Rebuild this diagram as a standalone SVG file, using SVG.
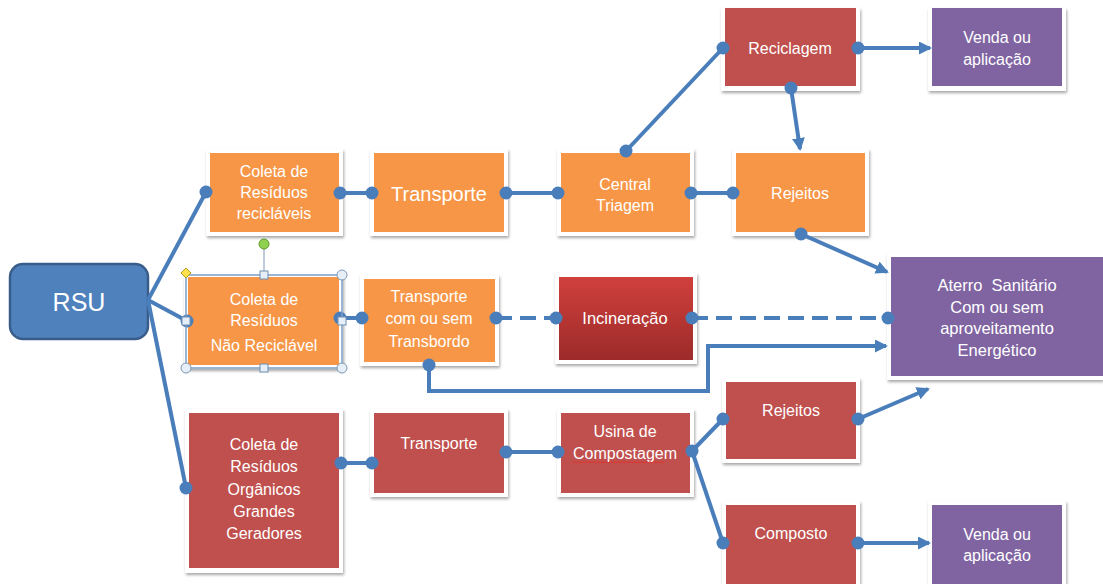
<svg xmlns="http://www.w3.org/2000/svg" width="1103" height="584" viewBox="0 0 1103 584">
<defs>
<filter id="sh" x="-10%" y="-10%" width="125%" height="130%">
<feDropShadow dx="1" dy="2" stdDeviation="1.8" flood-color="#000" flood-opacity="0.35"/>
</filter>
<linearGradient id="incg" x1="0" y1="0" x2="0" y2="1">
<stop offset="0" stop-color="#d0403c"/>
<stop offset="1" stop-color="#9c2b2a"/>
</linearGradient>
<marker id="ah" viewBox="0 0 13 13" refX="11" refY="6.5" markerWidth="13" markerHeight="13" markerUnits="userSpaceOnUse" orient="auto">
<path d="M0,0 L13,6.5 L0,13 z" fill="#4a7ebb"/>
</marker>
<style>
.fr{fill:#fff;filter:url(#sh)}
.or{fill:#f79646}
.rd{fill:#c0504d}
.pu{fill:#8064a2}
text{font-family:"Liberation Sans",Arial,sans-serif;font-size:16px;fill:#fff;text-anchor:middle}
.ln{stroke:#4a7ebb;stroke-width:4;fill:none}
.ds{stroke:#4a7ebb;stroke-width:4;fill:none;stroke-dasharray:16 8}
.dt{fill:#4a7ebb}
.hc{fill:#e6eef7;stroke:#7f97b3;stroke-width:1}
.hs{fill:#e6eef7;stroke:#6f8fb3;stroke-width:1}
</style>
</defs>

<g id="rsu">
<rect x="10" y="264" width="138" height="75" rx="13" fill="#4f81bd" stroke="#385d8a" stroke-width="2.5"/>
<text x="79" y="311" style="font-size:25px">RSU</text>
</g>

<g id="coleta-reciclaveis">
<rect class="fr" x="206" y="149" width="137" height="87"/>
<rect class="or" x="210" y="153" width="129" height="79"/>
<text x="274" y="177">Coleta de</text>
<text x="274" y="198">Resíduos</text>
<text x="274" y="219">recicláveis</text>
</g>

<g id="transporte-1">
<rect class="fr" x="370" y="149" width="138" height="87"/>
<rect class="or" x="374" y="153" width="130" height="79"/>
<text x="439" y="201" style="font-size:20px">Transporte</text>
</g>

<g id="central-triagem">
<rect class="fr" x="557" y="149" width="137" height="87"/>
<rect class="or" x="561" y="153" width="129" height="79"/>
<text x="625" y="190">Central</text>
<text x="625" y="211">Triagem</text>
</g>

<g id="rejeitos-1">
<rect class="fr" x="732" y="149" width="137" height="87"/>
<rect class="or" x="736" y="153" width="129" height="79"/>
<text x="800" y="199">Rejeitos</text>
</g>

<g id="reciclagem">
<rect class="fr" x="721" y="8" width="139" height="83"/>
<rect class="rd" x="725" y="8" width="131" height="78"/>
<text x="790" y="54">Reciclagem</text>
</g>

<g id="venda-1">
<rect class="fr" x="928" y="8" width="138" height="83"/>
<rect class="pu" x="932" y="8" width="130" height="78"/>
<text x="997" y="43">Venda ou</text>
<text x="997" y="65">aplicação</text>
</g>

<g id="coleta-nao-reciclavel">
<rect class="fr" x="184" y="273" width="159" height="96"/>
<rect class="or" x="188" y="277" width="151" height="88"/>
<text x="264" y="305">Coleta de</text>
<text x="264" y="326">Resíduos</text>
<text x="264" y="351">Não Reciclável</text>
</g>

<g id="transporte-transbordo">
<rect class="fr" x="360" y="275" width="139" height="91"/>
<rect class="or" x="364" y="279" width="131" height="83"/>
<text x="429" y="302">Transporte</text>
<text x="429" y="324">com ou sem</text>
<text x="429" y="347">Transbordo</text>
</g>

<g id="incineracao">
<rect class="fr" x="555" y="273" width="142" height="91"/>
<rect x="559" y="277" width="134" height="83" fill="url(#incg)"/>
<text x="625" y="324" style="font-size:16.5px">Incineração</text>
</g>

<g id="aterro">
<rect class="fr" x="887" y="253" width="216" height="127"/>
<rect class="pu" x="891" y="257" width="212" height="119"/>
<text x="997" y="291" style="font-size:16.5px" xml:space="preserve">Aterro  Sanitário</text>
<text x="997" y="313" style="font-size:16.5px">Com ou sem</text>
<text x="997" y="334" style="font-size:16.5px">aproveitamento</text>
<text x="997" y="356" style="font-size:16.5px">Energético</text>
</g>

<g id="coleta-organicos">
<rect class="fr" x="185" y="409" width="158" height="164"/>
<rect class="rd" x="189" y="413" width="150" height="155"/>
<text x="264" y="450">Coleta de</text>
<text x="264" y="472">Resíduos</text>
<text x="264" y="495">Orgânicos</text>
<text x="264" y="517">Grandes</text>
<text x="264" y="539">Geradores</text>
</g>

<g id="transporte-2">
<rect class="fr" x="370" y="409" width="138" height="88"/>
<rect class="rd" x="374" y="413" width="130" height="80"/>
<text x="439" y="449">Transporte</text>
</g>

<g id="usina">
<rect class="fr" x="557" y="409" width="137" height="88"/>
<rect class="rd" x="561" y="413" width="129" height="80"/>
<text x="625" y="437">Usina de</text>
<text x="625" y="459">Compostagem</text>
<path d="M572,463 l2,-1.5 l2,1.5 l2,-1.5 l2,1.5 l2,-1.5 l2,1.5 l2,-1.5 l2,1.5 l2,-1.5 l2,1.5 l2,-1.5 l2,1.5 l2,-1.5 l2,1.5 l2,-1.5 l2,1.5 l2,-1.5 l2,1.5 l2,-1.5 l2,1.5 l2,-1.5 l2,1.5 l2,-1.5 l2,1.5 l2,-1.5 l2,1.5 l2,-1.5 l2,1.5 l2,-1.5 l2,1.5 l2,-1.5 l2,1.5 l2,-1.5 l2,1.5 l2,-1.5 l2,1.5 l2,-1.5 l2,1.5 l2,-1.5 l2,1.5 l2,-1.5 l2,1.5 l2,-1.5 l2,1.5 l2,-1.5 l2,1.5" fill="none" stroke="#e0302a" stroke-width="0.9"/>
</g>

<g id="rejeitos-2">
<rect class="fr" x="722" y="378" width="138" height="85"/>
<rect class="rd" x="726" y="382" width="130" height="77"/>
<text x="791" y="416">Rejeitos</text>
</g>

<g id="composto">
<rect class="fr" x="722" y="501" width="138" height="87"/>
<rect class="rd" x="726" y="505" width="130" height="79"/>
<text x="791" y="539">Composto</text>
</g>

<g id="venda-2">
<rect class="fr" x="928" y="501" width="138" height="87"/>
<rect class="pu" x="932" y="505" width="130" height="79"/>
<text x="997" y="540">Venda ou</text>
<text x="997" y="561">aplicação</text>
</g>

<g id="connectors">
<line class="ln" x1="148" y1="300" x2="206" y2="192"/>
<line class="ln" x1="148" y1="300" x2="187" y2="321"/>
<line class="ln" x1="148" y1="300" x2="186" y2="488"/>
<line class="ln" x1="340" y1="193" x2="372" y2="193"/>
<line class="ln" x1="506" y1="193" x2="558" y2="193"/>
<line class="ln" x1="691" y1="193" x2="733" y2="193"/>
<line class="ln" x1="626" y1="151" x2="723" y2="48"/>
<line class="ln" x1="858" y1="48" x2="930" y2="48" marker-end="url(#ah)"/>
<line class="ln" x1="791" y1="88" x2="800" y2="149" marker-end="url(#ah)"/>
<line class="ln" x1="801" y1="234" x2="887" y2="272" marker-end="url(#ah)"/>
<line class="ln" x1="340" y1="318" x2="362" y2="318"/>
<line class="ds" x1="496" y1="318" x2="556" y2="318"/>
<line class="ds" x1="692" y1="318" x2="888" y2="318"/>
<polyline class="ln" points="429,365 429,391 708,391 708,346 886,346" marker-end="url(#ah)"/>
<line class="ln" x1="341" y1="463" x2="372" y2="463"/>
<line class="ln" x1="506" y1="452" x2="558" y2="452"/>
<line class="ln" x1="692" y1="451" x2="723" y2="419"/>
<line class="ln" x1="692" y1="451" x2="723" y2="543"/>
<line class="ln" x1="858" y1="419" x2="928" y2="389" marker-end="url(#ah)"/>
<line class="ln" x1="858" y1="543" x2="929" y2="543" marker-end="url(#ah)"/>
<g class="dt">
<circle cx="206" cy="192" r="6.5"/><circle cx="340" cy="193" r="6.5"/>
<circle cx="372" cy="193" r="6.5"/><circle cx="506" cy="193" r="6.5"/>
<circle cx="558" cy="193" r="6.5"/><circle cx="691" cy="193" r="6.5"/>
<circle cx="733" cy="193" r="6.5"/><circle cx="626" cy="151" r="6.5"/>
<circle cx="723" cy="48" r="6.5"/><circle cx="858" cy="48" r="6.5"/>
<circle cx="791" cy="88" r="6.5"/><circle cx="801" cy="234" r="6.5"/>
<circle cx="187" cy="321" r="6.5"/><circle cx="340" cy="318" r="6.5"/>
<circle cx="362" cy="318" r="6.5"/><circle cx="496" cy="318" r="6.5"/>
<circle cx="556" cy="318" r="6.5"/><circle cx="692" cy="318" r="6.5"/>
<circle cx="888" cy="318" r="6.5"/><circle cx="429" cy="365" r="6.5"/>
<circle cx="186" cy="488" r="6.5"/><circle cx="341" cy="463" r="6.5"/>
<circle cx="372" cy="463" r="6.5"/><circle cx="506" cy="452" r="6.5"/>
<circle cx="558" cy="452" r="6.5"/><circle cx="692" cy="451" r="6.5"/>
<circle cx="723" cy="419" r="6.5"/><circle cx="858" cy="419" r="6.5"/>
<circle cx="723" cy="543" r="6.5"/><circle cx="858" cy="543" r="6.5"/>
</g>
</g>

<g id="selection">
<rect x="186" y="275" width="156" height="93" fill="none" stroke="#7a9cc6" stroke-width="1.5"/>
<line x1="264" y1="244" x2="264" y2="275" stroke="#7f97b3" stroke-width="1"/>
<circle cx="264" cy="244" r="5" fill="#8fd14f" stroke="#5a9a2a" stroke-width="1"/>
<circle class="hc" cx="186" cy="368" r="5"/>
<circle class="hc" cx="342" cy="275" r="5"/>
<circle class="hc" cx="342" cy="368" r="5"/>
<rect class="hs" x="260" y="271" width="8" height="8"/>
<rect class="hs" x="260" y="364" width="8" height="8"/>
<rect class="hs" x="182" y="317" width="8" height="8"/>
<rect class="hs" x="338" y="317" width="8" height="8"/>
<path d="M186,268 L191,273 L186,278 L181,273 z" fill="#ffe14d" stroke="#b89a20" stroke-width="1"/>
</g>
</svg>
